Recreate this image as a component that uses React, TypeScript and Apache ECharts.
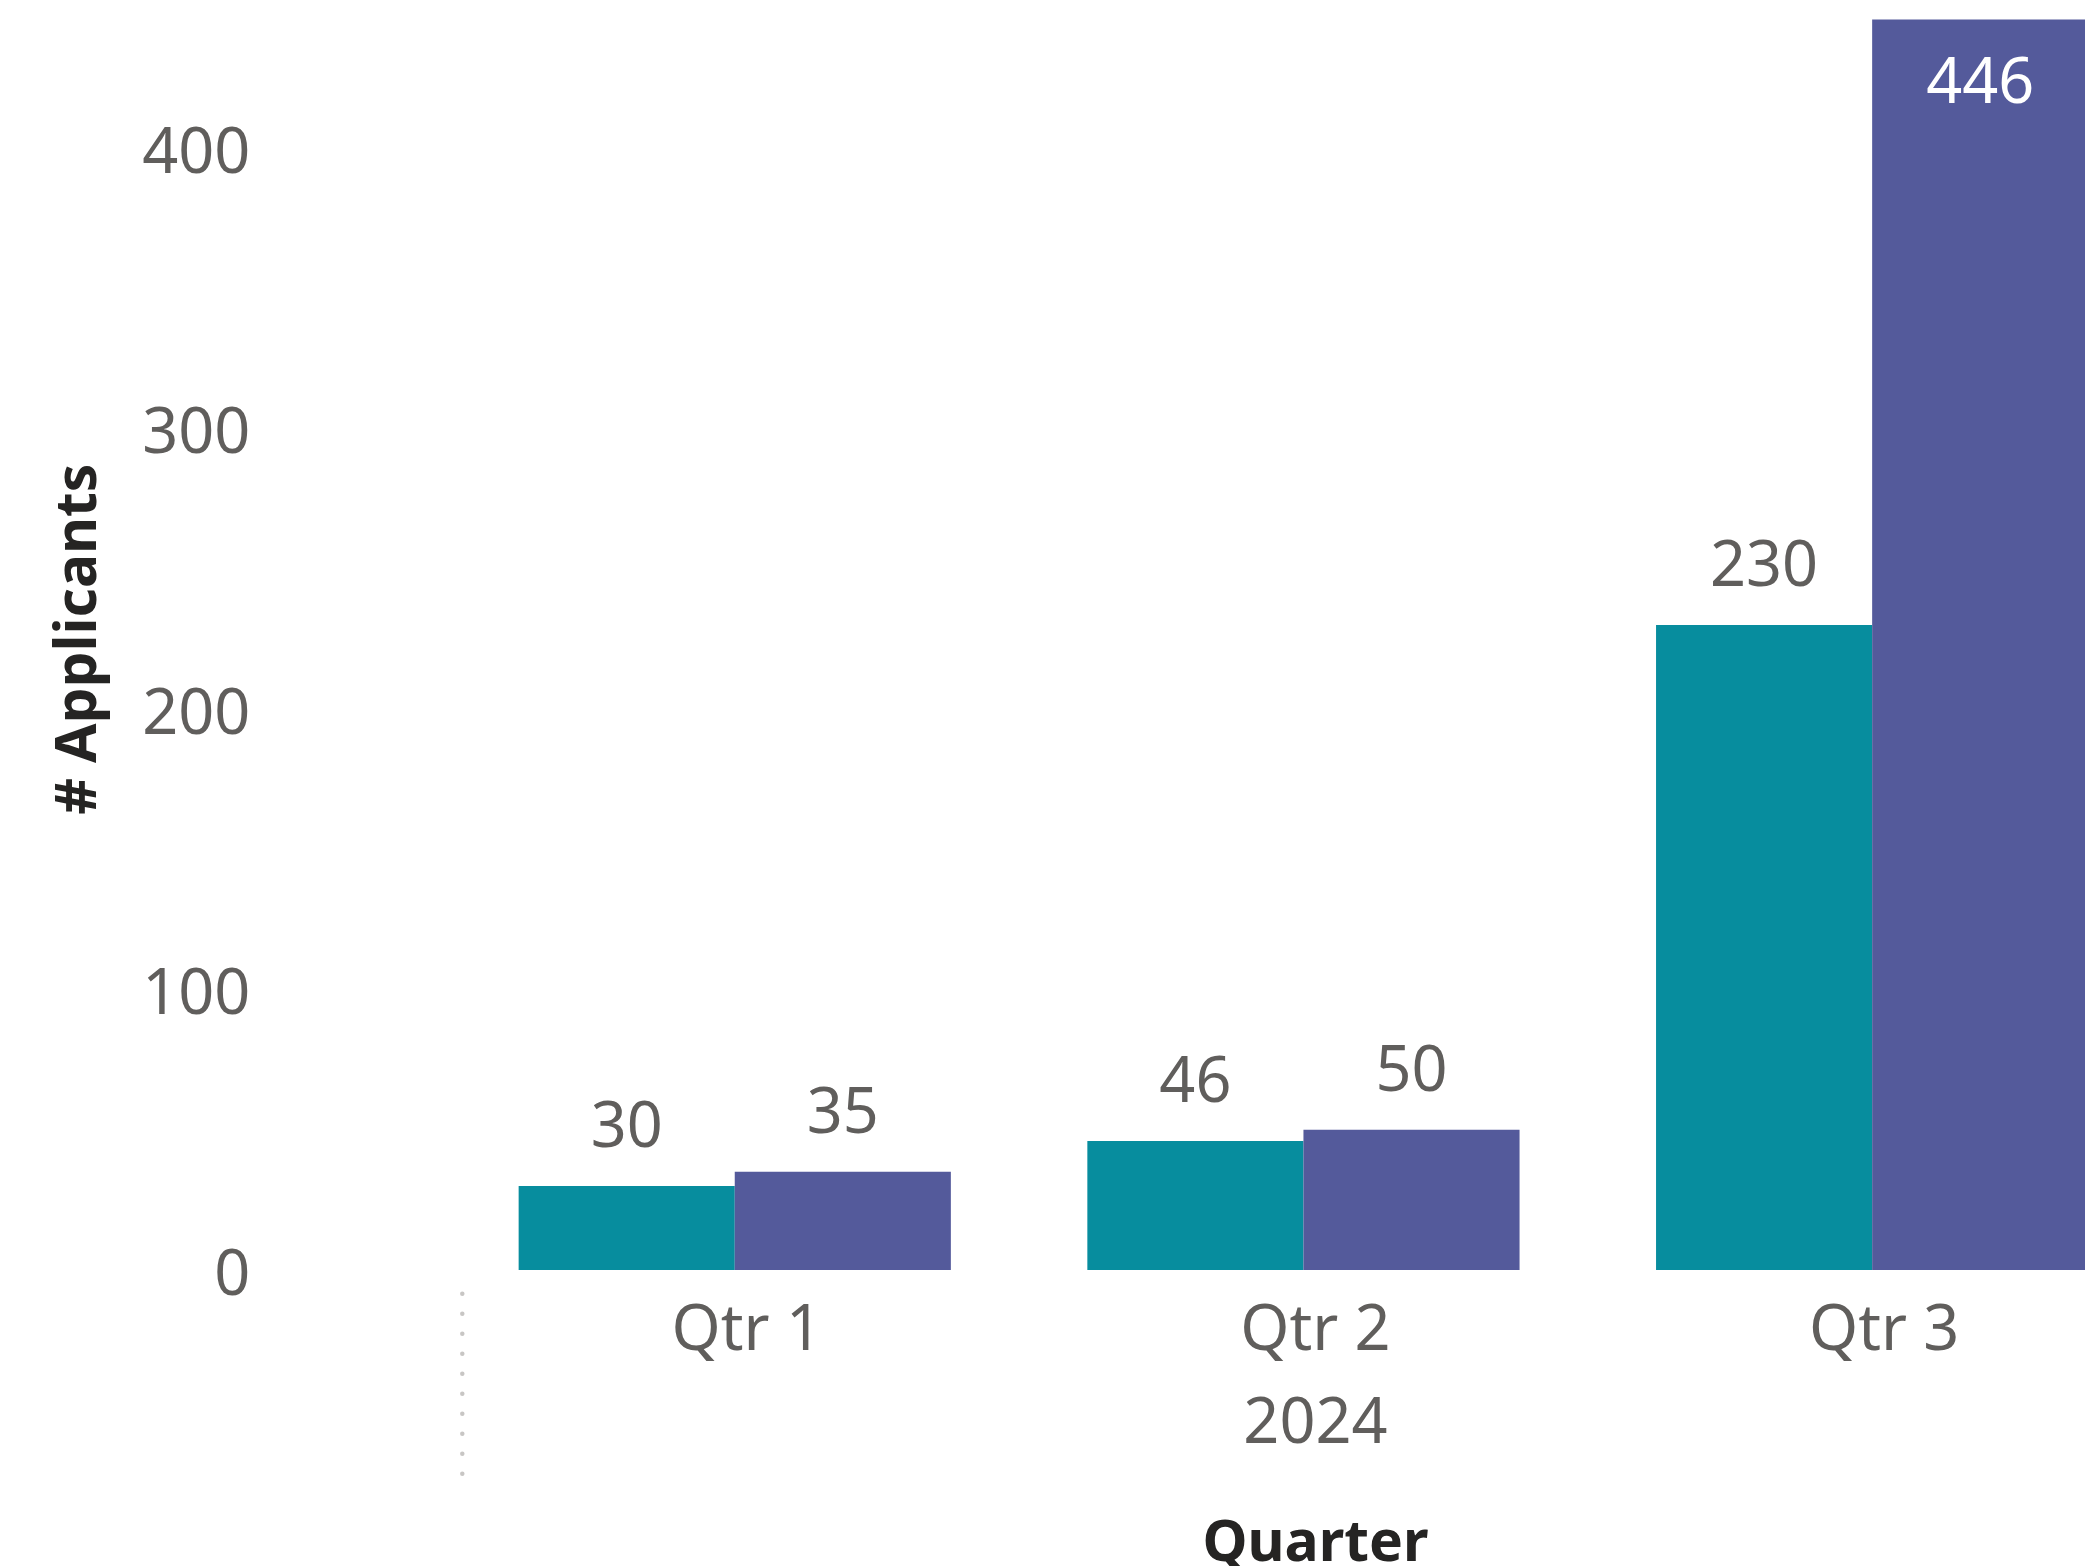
import React, { useEffect, useRef } from "react";
import * as echarts from "echarts";

const quarters = ["Qtr 1", "Qtr 2", "Qtr 3"];
const years = ["2024"];
const seriesNames = ["Series 1", "Series 2"];
const seriesA = [30, 46, 230];
const seriesB = [35, 50, 446];

const FONT = "'Segoe UI', 'Noto Sans', sans-serif";
const GREY = "#605E5C";
const DARK = "#252423";
const TEAL = "#078D9E";
const PURPLE = "#545A9B";

const AXIS_MAX = 450;

function toData(values: number[]) {
  return values.map((v) =>
    v > AXIS_MAX * 0.9
      ? { value: v, label: { position: "insideTop", color: "#FFFFFF", distance: 28 } }
      : { value: v }
  );
}

export default function App() {
  const ref = useRef<HTMLDivElement>(null);
  useEffect(() => {
    if (!ref.current) return;
    const chart = echarts.init(ref.current, undefined, { renderer: "svg" });
    const labelCommon = {
      show: true,
      position: "top",
      distance: 32,
      color: GREY,
      fontSize: 63,
      fontFamily: FONT,
    };
    chart.setOption({
      animation: false,
      backgroundColor: "#FFFFFF",
      grid: {
        left: 450.4,
        right: 3.5,
        top: 8.2,
        bottom: 296,
        containLabel: false,
        outerBoundsMode: "none",
      },
      xAxis: [
        {
          type: "category",
          data: quarters,
          position: "bottom",
          axisLine: { show: false },
          axisTick: { show: false },
          axisLabel: {
            color: GREY,
            fontSize: 63,
            fontFamily: FONT,
            margin: 24,
            padding: [0, 0, 0, 24],
          },
          name: "Quarter",
          nameLocation: "middle",
          nameGap: 240,
          nameTextStyle: {
            color: DARK,
            fontSize: 57,
            fontWeight: "bold",
            fontFamily: FONT,
            padding: [0, 0, 0, 24],
          },
        },
        {
          type: "category",
          data: years,
          position: "bottom",
          gridIndex: 0,
          axisLine: { show: false },
          axisTick: { show: false },
          axisLabel: {
            color: GREY,
            fontSize: 63,
            fontFamily: FONT,
            margin: 117,
            padding: [0, 0, 0, 24],
          },
        },
      ],
      yAxis: {
        type: "value",
        min: 0,
        max: AXIS_MAX,
        interval: 100,
        axisLine: { show: false },
        axisTick: { show: false },
        splitLine: { show: false },
        axisLabel: {
          color: GREY,
          fontSize: 63,
          fontFamily: FONT,
          margin: 200,
          showMaxLabel: false,
          padding: [0, 0, 8, 0],
        },
        name: "# Applicants",
        nameLocation: "middle",
        nameRotate: 90,
        nameGap: 348,
        nameTextStyle: { color: DARK, fontSize: 57, fontWeight: "bold", fontFamily: FONT },
      },
      series: [
        {
          name: seriesNames[0],
          type: "bar",
          xAxisIndex: 0,
          data: toData(seriesA),
          itemStyle: { color: TEAL },
          barGap: "0%",
          barCategoryGap: "24%",
          label: labelCommon,
        },
        {
          name: seriesNames[1],
          type: "bar",
          xAxisIndex: 0,
          data: toData(seriesB),
          itemStyle: { color: PURPLE },
          barGap: "0%",
          barCategoryGap: "24%",
          label: labelCommon,
        },
      ],
      graphic: [
        {
          type: "line",
          shape: { x1: 462.3, y1: 1293.7, x2: 462.3, y2: 1474 },
          style: { stroke: "#C8C6C4", lineWidth: 4.5, lineDash: [0.1, 19.9], lineCap: "round" },
          silent: true,
        },
      ],
    });
    return () => chart.dispose();
  }, []);
  return (
    <div
      style={{
        position: "fixed",
        left: 0,
        top: 0,
        width: 2085,
        height: 1566,
        overflow: "hidden",
        background: "#FFFFFF",
      }}
    >
      <div ref={ref} style={{ width: 2160, height: 1566 }} />
    </div>
  );
}
